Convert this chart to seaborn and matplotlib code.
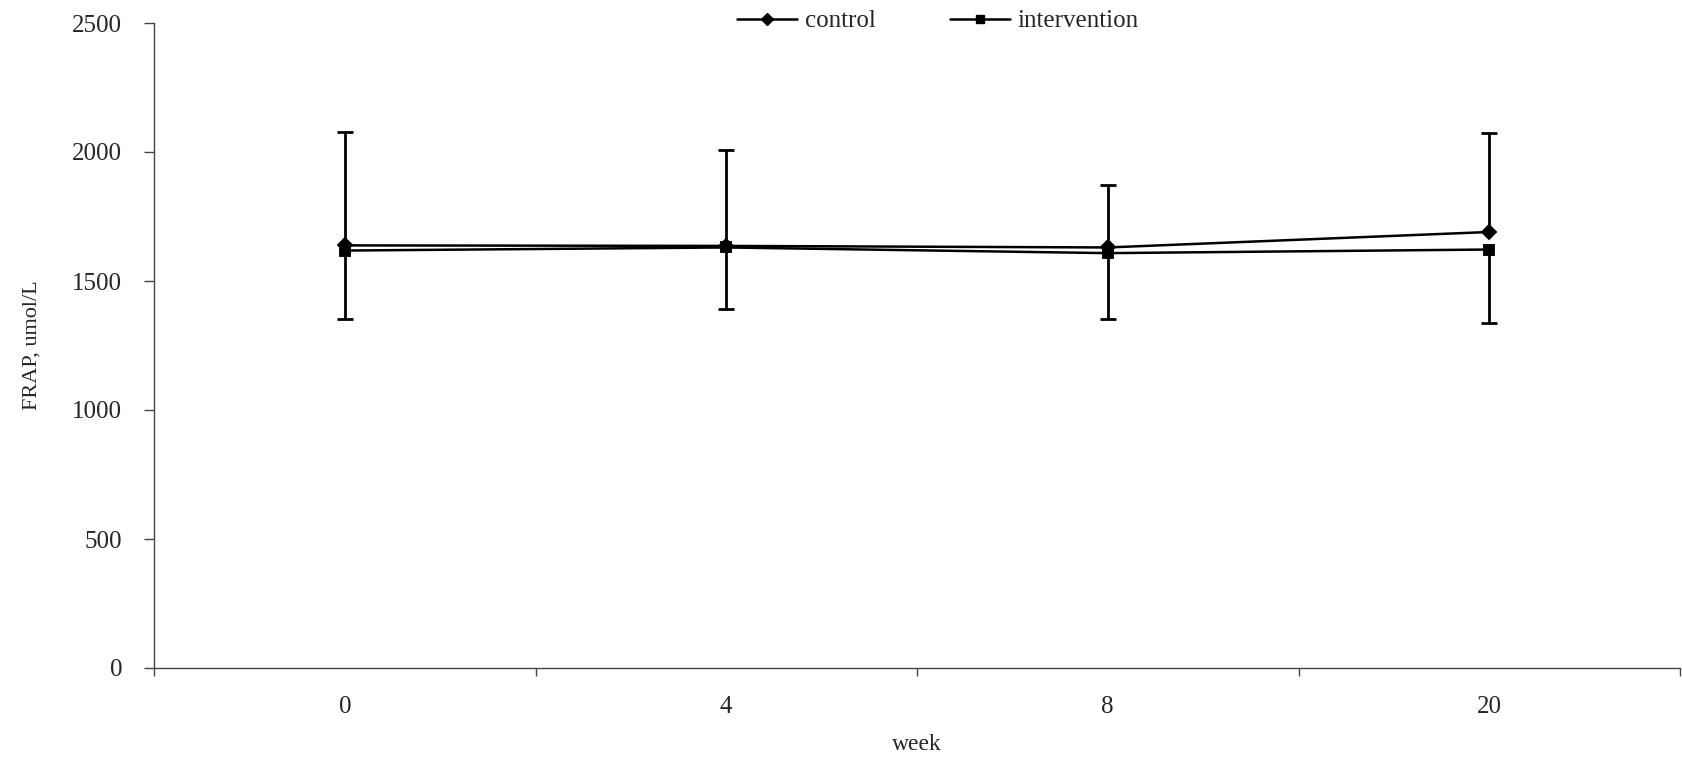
import matplotlib
matplotlib.use('Agg')
import matplotlib.pyplot as plt
import numpy as np
import pandas as pd
import seaborn as sns

# data
weeks = ['0', '4', '8', '20']
control = [1638, 1636, 1630, 1690]
intervention = [1618, 1630, 1608, 1622]
control_sd_up = [440, 372, 242, 384]        # only upper bars drawn for control
intervention_sd_down = [265, 237, 255, 285]  # only lower bars drawn for intervention

df = pd.DataFrame({
    'week': weeks * 2,
    'frap': control + intervention,
    'group': ['control'] * 4 + ['intervention'] * 4,
})

sns.set_style('ticks')
plt.rcParams['font.family'] = ['Liberation Serif', 'DejaVu Serif']

fig = plt.figure(figsize=(16.82, 7.57), dpi=100)
ax = fig.add_axes([154 / 1682, 1 - 668 / 757, 1526 / 1682, 645 / 757])

sns.pointplot(data=df, x='week', y='frap', hue='group', order=weeks,
              markers=['D', 's'], linestyles=['-', '-'],
              palette=['black', 'black'], errorbar=None,
              markersize=7, linewidth=1.8, ax=ax, legend=False)

# one-sided error bars: up for control, down for intervention
pos = np.arange(len(weeks))
c_top = np.array(control) + np.array(control_sd_up)
i_bot = np.array(intervention) - np.array(intervention_sd_down)
ax.vlines(pos, control, c_top, color='black', linewidth=2)
ax.vlines(pos, i_bot, intervention, color='black', linewidth=2)
ax.plot(pos, c_top, ls='none', marker='_', markersize=11, mew=2, color='black')
ax.plot(pos, i_bot, ls='none', marker='_', markersize=11, mew=2, color='black')

ax.set_xlim(-0.5, 3.5)
ax.set_ylim(0, 2500)
ax.set_yticks([0, 500, 1000, 1500, 2000, 2500])
ax.set_xticks(np.arange(-0.5, 4, 1))
ax.set_xticklabels([])
ax.set_xticks(pos, minor=True)
ax.set_xticklabels(weeks, minor=True)
ax.tick_params(axis='x', which='minor', length=0, pad=20, labelsize=18)
ax.tick_params(axis='x', which='major', length=6, width=1, color='#444444')
ax.tick_params(axis='y', length=7, width=1, pad=16, labelsize=18, color='#444444')

for side in ['top', 'right']:
    ax.spines[side].set_visible(False)
for side in ['left', 'bottom']:
    ax.spines[side].set_color('#444444')
    ax.spines[side].set_linewidth(1)

ax.set_xlabel('week', fontsize=17, labelpad=12)
ax.set_ylabel('FRAP, umol/L', fontsize=16, labelpad=22)

handles = [
    plt.Line2D([], [], color='black', marker='D', markersize=6, linewidth=1.8),
    plt.Line2D([], [], color='black', marker='s', markersize=6, linewidth=1.8),
]
fig.legend(handles, ['control', 'intervention'], loc='center',
           bbox_to_anchor=(938 / 1682, 1 - 21 / 757), ncol=2, frameon=False,
           fontsize=18, handlelength=2.4, handletextpad=0.3, columnspacing=3)

fig.savefig('out.png', dpi=100)
